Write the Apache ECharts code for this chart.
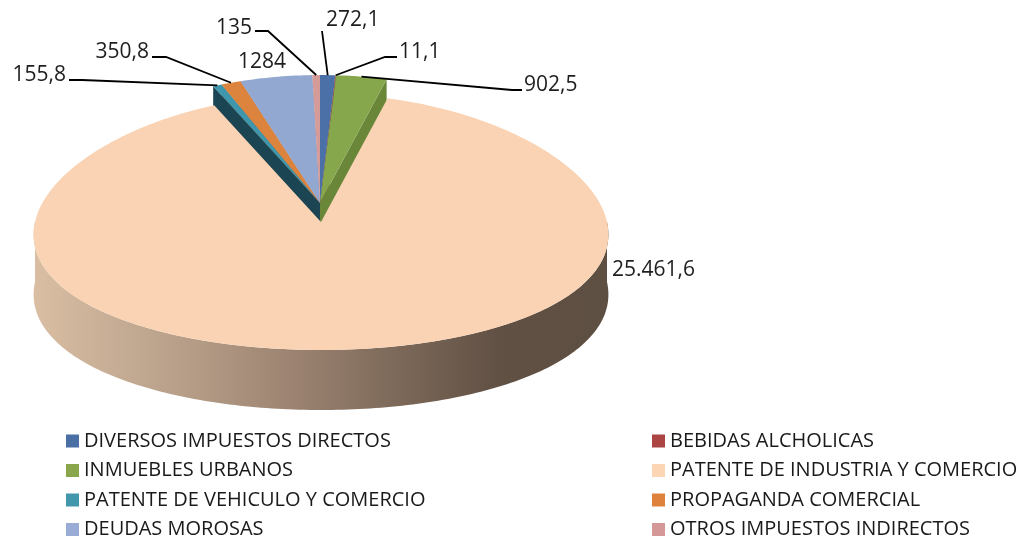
<!DOCTYPE html>
<html>
<head>
<meta charset="utf-8">
<script src="https://cdn.jsdelivr.net/npm/echarts@6/dist/echarts.min.js"></script>
<style>
  html, body { margin: 0; padding: 0; background: #ffffff; }
  #chart { width: 1027px; height: 538px; }
</style>
</head>
<body>
<div id="chart"></div>
<script>
// Revenue by tax category
const categories = [
  'DIVERSOS IMPUESTOS DIRECTOS',
  'BEBIDAS ALCHOLICAS',
  'INMUEBLES URBANOS',
  'PATENTE DE INDUSTRIA Y COMERCIO',
  'PATENTE DE VEHICULO Y COMERCIO',
  'PROPAGANDA COMERCIAL',
  'DEUDAS MOROSAS',
  'OTROS IMPUESTOS INDIRECTOS'
];
const values = [272.1, 11.1, 902.5, 25461.6, 155.8, 350.8, 1284, 135];

// Slice styling
const topColors  = ['#4a70a7', '#b0403f', '#87a74c', '#f9d3b3', '#3f97ae', '#dc833d', '#93a8d1', '#d59b99'];
const wallColors = ['#2e4d7c', '#7d2b2a', '#6a8739', '#9c8270', '#1b4553', '#a45e26', '#6c7fa6', '#a66f6d'];
const legendColors = ['#4a6fa5', '#ab4544', '#8aa64c', '#fcd5b5', '#4297ad', '#de823c', '#98acd6', '#d59898'];

// Pie geometry (pixels)
const CX = 320, CY = 203, RX = 286, RY = 128, DEPTH = 60, PERSP = 0.1;
// Slice displacement (exploded slice)
const explodeOffset = [[0, 0], [0, 0], [0, 0], [1, 19], [0, 0], [0, 0], [0, 0], [0, 0]];
// Label placement: text anchor and leader elbows
const labelLayout = [
  { x: 326, y: 20, align: 'left',  path: [[322, 31]] },
  { x: 399, y: 52, align: 'left',  path: [[385, 57], [397, 57]] },
  { x: 524, y: 85, align: 'left',  path: [[512, 90], [522, 90]] },
  { x: 612, y: 270, align: 'left', path: null },
  { x: 66,  y: 75, align: 'right', path: [[82, 80], [69, 80]] },
  { x: 149, y: 52, align: 'right', path: [[166, 57], [152, 57]] },
  { x: 262, y: 62, align: 'center', path: null },
  { x: 252, y: 28, align: 'right', path: [[268, 31], [255, 31]] }
];

const TAU = Math.PI * 2;
const total = values.reduce((a, b) => a + b, 0);
const starts = [];
values.reduce((acc, v) => { starts.push(acc / total * TAU); return acc + v; }, 0);

// Spanish number format (no grouping for four-digit integers)
function formatEs(v) {
  const s = (Math.round(v * 10) / 10).toString();
  let [ip, fp] = s.split('.');
  if (ip.length > 4) ip = ip.replace(/\B(?=(\d{3})+(?!\d))/g, '.');
  return ip + (fp ? ',' + fp : '');
}

function rim(c, phi, dz) {
  const s = Math.sin(phi), co = Math.cos(phi);
  return [c[0] + RX * s * (1 - PERSP * co), c[1] - RY * co + (dz || 0)];
}
function arc(c, a0, a1, dz) {
  const n = Math.max(2, Math.ceil((a1 - a0) / (Math.PI / 180)));
  const pts = [];
  for (let k = 0; k <= n; k++) pts.push(rim(c, a0 + (a1 - a0) * k / n, dz));
  return pts;
}

const sideGradient = new echarts.graphic.LinearGradient(35, 0, 607, 0, [
  { offset: 0.00, color: '#d9bea3' },
  { offset: 0.29, color: '#b29a85' },
  { offset: 0.46, color: '#9b8270' },
  { offset: 0.64, color: '#7b6858' },
  { offset: 0.81, color: '#615044' },
  { offset: 1.00, color: '#5e4f43' }
], true);

function makeRender(i) {
  return function (params, api) {
    const v = api.value(0);
    const a0 = starts[i], a1 = a0 + v / total * TAU;
    const off = explodeOffset[i];
    const c = [CX + off[0], CY + off[1]];
    const lift = (off[0] || off[1]) ? 3 : 0;
    const children = [];

    // outer wall (front half only)
    const f0 = Math.max(a0, Math.PI / 2), f1 = Math.min(a1, 1.5 * Math.PI);
    if (f1 > f0) {
      const top = arc(c, f0, f1, 0), bot = arc(c, f0, f1, DEPTH).reverse();
      children.push({
        type: 'polygon', shape: { points: top.concat(bot) },
        style: { fill: i === 3 ? sideGradient : wallColors[i] }, z2: lift + 0.6
      });
    }
    // radial cut faces that face the viewer
    [[a0, a0 - Math.PI / 2], [a1, a1 + Math.PI / 2]].forEach(function (e) {
      if (Math.cos(e[1]) < -1e-6) {
        const p = rim(c, e[0], 0);
        children.push({
          type: 'polygon',
          shape: { points: [c, p, [p[0], p[1] + DEPTH], [c[0], c[1] + DEPTH]] },
          style: { fill: wallColors[i] },
          z2: lift + (p[1] + c[1]) / 2000
        });
      }
    });
    // top face
    children.push({
      type: 'polygon', shape: { points: [c].concat(arc(c, a0, a1, 0)) },
      style: { fill: topColors[i] }, z2: lift + 1
    });

    // data label with leader line
    const lab = labelLayout[i];
    if (lab.path) {
      const start = rim(c, (a0 + a1) / 2, 0);
      children.push({
        type: 'polyline', shape: { points: [start].concat(lab.path) },
        style: { stroke: '#000000', lineWidth: 1.8, fill: null }, z2: 10
      });
    }
    children.push({
      type: 'text',
      style: {
        text: formatEs(v), x: lab.x, y: lab.y,
        fontFamily: 'Open Sans', fontSize: 21, fill: '#1e1e1e',
        align: lab.align, verticalAlign: 'middle'
      },
      z2: 11
    });
    return { type: 'group', children: children };
  };
}

const chart = echarts.init(document.getElementById('chart'), null, { renderer: 'canvas' });

// Narrow horizontal legends: one entry per line, two columns
const legendBase = {
  orient: 'horizontal', top: 431, width: 20, padding: 0,
  itemWidth: 13, itemHeight: 13, itemGap: 9.5,
  icon: 'rect', selectedMode: false,
  textStyle: { fontFamily: 'Open Sans', fontSize: 20, color: '#1a1a1a' }
};

chart.setOption({
  animation: false,
  backgroundColor: '#ffffff',
  legend: [
    Object.assign({}, legendBase, { left: 66, data: [0, 2, 4, 6].map(k => categories[k]) }),
    Object.assign({}, legendBase, { left: 652, data: [1, 3, 5, 7].map(k => categories[k]) })
  ],
  series: categories.map((name, i) => ({
    type: 'custom',
    name: name,
    coordinateSystem: 'none',
    itemStyle: { color: legendColors[i] },
    renderItem: makeRender(i),
    data: [values[i]],
    silent: true
  }))
});
</script>
</body>
</html>
